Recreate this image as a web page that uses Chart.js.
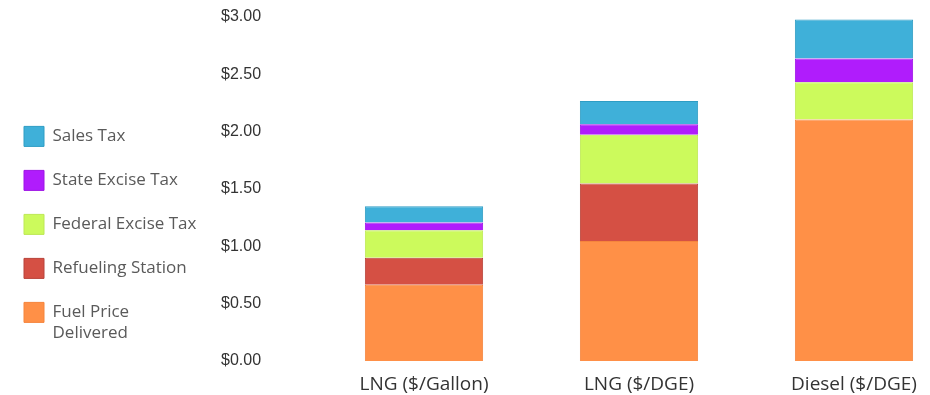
<!DOCTYPE html>
<html>
<head>
<meta charset="utf-8">
<script src="https://cdn.jsdelivr.net/npm/chart.js@4"></script>
<style>
  html, body { margin: 0; padding: 0; background: #fff; }
  #wrap { width: 930px; height: 395px; }
</style>
</head>
<body>
<div id="wrap"><canvas id="fuel-cost"></canvas></div>
<script>
// categories and per-series values ($)
var categories = ['LNG ($/Gallon)', 'LNG ($/DGE)', 'Diesel ($/DGE)'];
var fuelPrice = [0.665, 1.046, 2.107];
var refueling = [0.235, 0.503, 0];
var federalTax = [0.241, 0.424, 0.323];
var stateTax = [0.067, 0.091, 0.209];
var salesTax = [0.142, 0.203, 0.340];

// keep the legend column a fixed width so the axis sits where it should
var legendWidth = {
  id: 'legendWidth',
  beforeLayout: function (chart) {
    var lg = chart.legend;
    if (lg && !lg._fixedWidth) {
      var fit = lg.fit;
      lg.fit = function () { fit.call(this); this.width = 221; };
      lg._fixedWidth = true;
    }
  }
};

var ctx = document.getElementById('fuel-cost');
var chart = new Chart(ctx, {
  type: 'bar',
  data: {
    labels: categories,
    datasets: [{
      label: ['Fuel Price', 'Delivered'],
      data: fuelPrice,
      backgroundColor: '#FF9047',
      borderColor: '#F5853D',
      borderWidth: 1
    }, {
      label: 'Refueling Station',
      data: refueling,
      backgroundColor: '#D55044',
      borderColor: '#B8433A',
      borderWidth: 1
    }, {
      label: 'Federal Excise Tax',
      data: federalTax,
      backgroundColor: '#CCFA5C',
      borderColor: '#BDE855',
      borderWidth: 1
    }, {
      label: 'State Excise Tax',
      data: stateTax,
      backgroundColor: '#B01CFC',
      borderColor: '#9E14E6',
      borderWidth: 1
    }, {
      label: 'Sales Tax',
      data: salesTax,
      backgroundColor: '#3FB0D9',
      borderColor: '#2E9DC4',
      borderWidth: 1
    }]
  },
  options: {
    responsive: true,
    maintainAspectRatio: false,
    animation: false,
    layout: { padding: { top: 17, right: 76, bottom: 0, left: 0 } },
    datasets: { bar: { categoryPercentage: 1, barPercentage: 0.55, clip: false } },
    plugins: {
      tooltip: { enabled: false },
      legend: {
        position: 'left',
        align: 'start',
        reverse: true,
        title: { display: true, text: '', padding: { top: 0, bottom: 71 } },
        labels: {
          boxWidth: 20,
          boxHeight: 20,
          padding: 24,
          color: '#5a5a5a',
          font: { family: 'Open Sans', size: 17, lineHeight: 1.24 }
        }
      }
    },
    scales: {
      x: {
        stacked: true,
        offset: false,
        grid: { display: false, drawTicks: false },
        border: { display: false },
        afterFit: function (scale) { scale.height = 34; },
        ticks: {
          color: '#333',
          padding: 12,
          maxRotation: 0,
          minRotation: 0,
          font: { family: 'Open Sans', size: 19 }
        }
      },
      y: {
        stacked: true,
        min: 0,
        max: 3,
        grid: { display: false, drawTicks: false },
        border: { display: false },
        afterFit: function (scale) { scale.width = 203; },
        ticks: {
          stepSize: 0.5,
          crossAlign: 'far',
          color: '#333',
          font: { family: 'Liberation Sans', size: 16 },
          callback: function (v) { return '$' + v.toFixed(2); }
        }
      }
    }
  },
  plugins: [legendWidth]
});
</script>
</body>
</html>
